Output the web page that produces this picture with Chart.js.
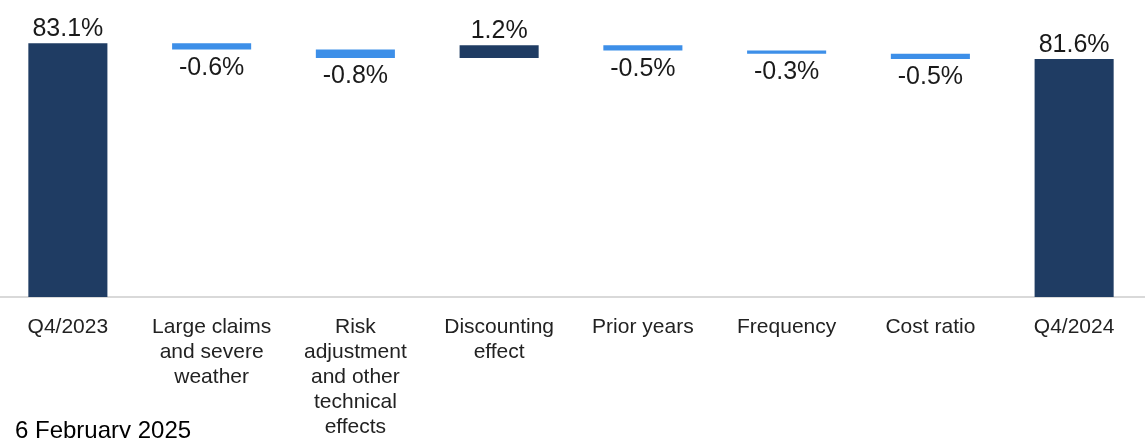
<!DOCTYPE html>
<html lang="en">
  <head>
    <meta charset="UTF-8">
    <title>Combined ratio bridge</title>
    <script src="https://cdn.jsdelivr.net/npm/chart.js"></script>
    <style>
      html, body { margin: 0; padding: 0; background: #fff; }
      body { width: 1145px; height: 438px; overflow: hidden; position: relative; }
      #wrap { position: absolute; left: -4px; top: 0; width: 1150px; height: 470px; }
      #date {
        position: absolute; left: 15px; top: 418px;
        font: 24px Arial, "Liberation Sans", sans-serif; line-height: 24px;
        color: #000; white-space: nowrap;
      }
    </style>
  </head>
  <body>
    <div id="wrap"><canvas id="bridge"></canvas></div>
    <div id="date">6 February 2025</div>

    <script>
      const categories = [
        'Q4/2023',
        ['Large claims', 'and severe', 'weather'],
        ['Risk', 'adjustment', 'and other', 'technical', 'effects'],
        ['Discounting', 'effect'],
        'Prior years',
        'Frequency',
        'Cost ratio',
        'Q4/2024'
      ];
      const values = [83.1, -0.6, -0.8, 1.2, -0.5, -0.3, -0.5, 81.6];
      const isTotal = [true, false, false, false, false, false, false, true];

      const Y_MIN = 59;
      const Y_MAX = 87.2;
      const NAVY = '#1F3C63';
      const LIGHT = '#3D8FE8';
      const FONT = 'Arial, "Liberation Sans", sans-serif';

      // build floating ranges for the waterfall
      let running = 0;
      const ranges = values.map((v, i) => {
        if (isTotal[i]) {
          running = v;
          return [Y_MIN, v];
        }
        const start = running;
        running = +(running + v).toFixed(2);
        return [start, running];
      });
      const colors = values.map((v, i) => (isTotal[i] || v > 0) ? NAVY : LIGHT);

      const valueLabels = {
        id: 'valueLabels',
        afterDatasetsDraw(chart) {
          const ctx = chart.ctx;
          const meta = chart.getDatasetMeta(0);
          ctx.save();
          ctx.font = '25px ' + FONT;
          ctx.fillStyle = '#1a1a1a';
          ctx.textAlign = 'center';
          ctx.textBaseline = 'alphabetic';
          meta.data.forEach((bar, i) => {
            const p = bar.getProps(['x', 'y', 'base'], true);
            const top = Math.min(p.y, p.base);
            const bottom = Math.max(p.y, p.base);
            const v = values[i];
            const text = v.toFixed(1) + '%';
            if (v < 0) {
              ctx.fillText(text, p.x, bottom + 25);
            } else {
              ctx.fillText(text, p.x, top - 7);
            }
          });
          ctx.restore();
        }
      };

      new Chart(document.getElementById('bridge'), {
        type: 'bar',
        data: {
          labels: categories,
          datasets: [{
            data: ranges,
            backgroundColor: colors,
            borderWidth: 0,
            barPercentage: 0.55,
            categoryPercentage: 1
          }]
        },
        options: {
          responsive: true,
          maintainAspectRatio: false,
          animation: false,
          layout: { padding: 0 },
          plugins: {
            legend: { display: false },
            tooltip: { enabled: false }
          },
          scales: {
            x: {
              grid: { display: false, drawTicks: false },
              border: { display: true, color: '#d9d9d9', width: 2 },
              ticks: {
                padding: 18,
                autoSkip: false,
                maxRotation: 0,
                color: '#222',
                font: { family: FONT, size: 21, lineHeight: 1.19 }
              },
              afterFit(scale) { scale.height = 173; }
            },
            y: {
              display: false,
              min: Y_MIN,
              max: Y_MAX
            }
          }
        },
        plugins: [valueLabels]
      });
    </script>
  </body>
</html>
